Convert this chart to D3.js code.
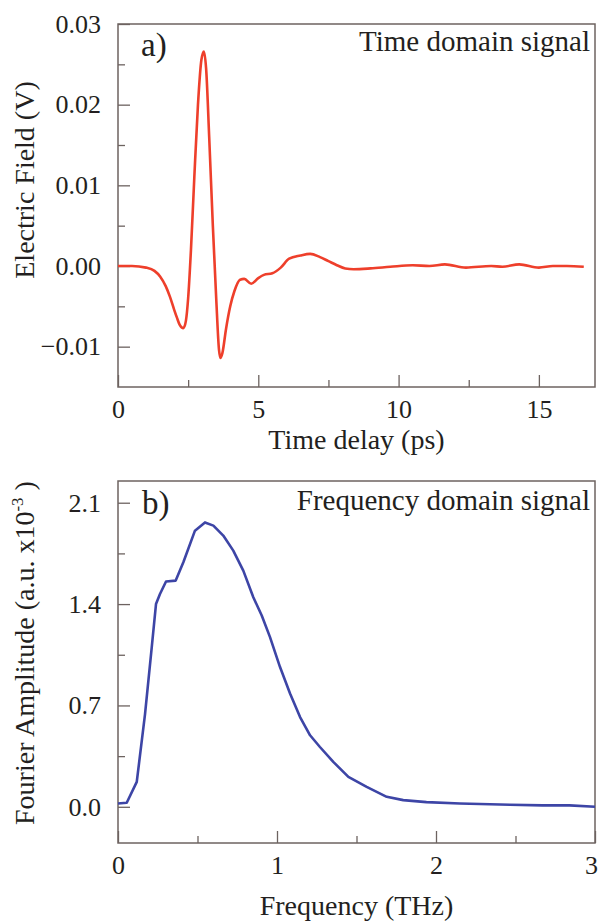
<!DOCTYPE html>
<html>
<head>
<meta charset="utf-8">
<script src="https://cdn.jsdelivr.net/npm/d3@7"></script>
<style>
  body { margin: 0; background: #fff; }
  svg text { font-family: "Liberation Serif", "Noto Serif", FreeSerif, Times, "Times New Roman", "DejaVu Serif", serif !important; fill: #231f20; }
</style>
</head>
<body>
<svg id="chart" width="600" height="922"></svg>
<script>
// time domain signal (ps, V)
let timeDelay = [0, 0.5, 1.0, 1.3, 1.5, 1.7, 1.85, 2.0, 2.1, 2.2, 2.33, 2.42, 2.5, 2.6, 2.72, 2.85, 2.97, 3.06, 3.14, 3.25, 3.38, 3.5, 3.6, 3.65, 3.72, 3.85, 4.0, 4.15, 4.35, 4.5, 4.75, 5.0, 5.2, 5.5, 5.8, 6.1, 6.5, 6.85, 7.2, 7.5, 7.8, 8.1, 8.4, 9.0, 9.7, 10.5, 11.1, 11.65, 12.4, 13.3, 13.7, 14.3, 15.0, 15.5, 16.0, 16.6];
let electricField = [0, 0, -0.0002, -0.0006, -0.0013, -0.0025, -0.0038, -0.0054, -0.0064, -0.0073, -0.0077, -0.0068, -0.004, 0.002, 0.011, 0.020, 0.0255, 0.0266, 0.0245, 0.016, 0.005, -0.004, -0.0104, -0.0114, -0.0108, -0.0078, -0.005, -0.0031, -0.0017, -0.0016, -0.0022, -0.0015, -0.0011, -0.0009, -0.0002, 0.0009, 0.0013, 0.0015, 0.0011, 0.0006, 0.0001, -0.0003, -0.0004, -0.0003, -0.0001, 0.0001, 0, 0.0002, -0.0002, 0, -0.0001, 0.0002, -0.0002, 0, 0, -0.0001];

// frequency domain signal (THz, a.u. x10^-3)
let frequency = [0, 0.055, 0.118, 0.17, 0.212, 0.239, 0.264, 0.302, 0.363, 0.411, 0.484, 0.547, 0.6, 0.662, 0.725, 0.788, 0.851, 0.904, 0.956, 1.019, 1.082, 1.145, 1.208, 1.27, 1.354, 1.449, 1.564, 1.69, 1.794, 1.94, 2.15, 2.465, 2.67, 2.84, 3.0];
let fourierAmp = [0.023, 0.028, 0.172, 0.64, 1.10, 1.40, 1.47, 1.556, 1.562, 1.689, 1.907, 1.964, 1.942, 1.873, 1.769, 1.631, 1.447, 1.321, 1.172, 0.965, 0.782, 0.62, 0.494, 0.413, 0.31, 0.207, 0.138, 0.069, 0.046, 0.032, 0.023, 0.014, 0.01, 0.01, 0.0];

// tick values
let timeTicks = [0, 5, 10, 15];
let timeMinor = [2.5, 7.5, 12.5];
let fieldTicks = [-0.01, 0, 0.01, 0.02, 0.03];
let fieldMinor = [-0.005, 0.005, 0.015, 0.025];
let freqTicks = [0, 1, 2, 3];
let freqMinor = [0.5, 1.5, 2.5];
let ampTicks = [0, 0.7, 1.4, 2.1];
let ampMinor = [0.35, 1.05, 1.75];

let svg = d3.select("#chart");
let frameColor = "#6d6360";
let left = 118, right = 595;

function drawPanel(cfg) {
    let x = d3.scaleLinear().domain(cfg.xDomain).range([left, right]);
    let y = d3.scaleLinear().domain(cfg.yDomain).range([cfg.bottom, cfg.top]);
    let g = svg.append("g");

    // x axis ticks (inward)
    let xa = g.append("g").attr("transform", `translate(0,${cfg.bottom})`)
              .call(d3.axisBottom(x).tickValues(cfg.xTicks).tickSize(-12).tickPadding(13)
                      .tickFormat(cfg.xFormat));
    g.append("g").attr("transform", `translate(0,${cfg.bottom})`)
     .call(d3.axisBottom(x).tickValues(cfg.xMinor).tickSize(-7).tickFormat(""));

    // y axis ticks (inward)
    g.append("g").attr("transform", `translate(${left},0)`)
     .call(d3.axisLeft(y).tickValues(cfg.yTicks).tickSize(-12).tickPadding(17)
             .tickFormat(cfg.yFormat));
    g.append("g").attr("transform", `translate(${left},0)`)
     .call(d3.axisLeft(y).tickValues(cfg.yMinor).tickSize(-7).tickFormat(""));

    g.selectAll(".domain").remove();
    g.selectAll("g").attr("font-family", null);
    g.selectAll(".tick line").attr("stroke", frameColor).attr("stroke-width", 1.3);
    g.selectAll(".tick text").style("font-size", "26px").attr("fill", "#231f20");

    // keep a label sitting on the right edge inside the page
    xa.selectAll(".tick text").filter(d => x(d) > right - 5).attr("dx", -4);

    g.append("rect")
     .attr("x", left).attr("y", cfg.top)
     .attr("width", right - left).attr("height", cfg.bottom - cfg.top)
     .attr("fill", "none").attr("stroke", frameColor).attr("stroke-width", 1.5);

    let line = d3.line()
                 .x(d => x(d[0]))
                 .y(d => y(d[1]))
                 .curve(cfg.curve);
    g.append("path")
     .datum(d3.zip(cfg.xs, cfg.ys))
     .attr("d", line)
     .attr("fill", "none")
     .attr("stroke", cfg.color)
     .attr("stroke-width", 2.6)
     .attr("stroke-linejoin", "round");

    // panel letter
    g.append("text").attr("x", cfg.letterX).attr("y", cfg.letterY)
     .style("font-size", "33px").text(cfg.letter);

    // panel title
    g.append("text").attr("x", 590).attr("y", cfg.titleY)
     .attr("text-anchor", "end").style("font-size", "29px").text(cfg.title);

    // x label
    g.append("text").attr("x", (left + right) / 2).attr("y", cfg.xLabelY)
     .attr("text-anchor", "middle").style("font-size", "28px").text(cfg.xLabel);

    return g;
}

drawPanel({
    xDomain: [0, 17], yDomain: [-0.015, 0.03], top: 24, bottom: 387,
    xTicks: timeTicks, xMinor: timeMinor, yTicks: fieldTicks, yMinor: fieldMinor,
    xFormat: d3.format("d"), yFormat: d3.format(".2f"),
    xs: timeDelay, ys: electricField, color: "#ee3f2b", curve: d3.curveMonotoneX,
    letter: "a)", letterX: 141, letterY: 56,
    title: "Time domain signal", titleY: 51,
    xLabel: "Time delay (ps)", xLabelY: 449
});

drawPanel({
    xDomain: [0, 3], yDomain: [-0.25, 2.25], top: 481, bottom: 843,
    xTicks: freqTicks, xMinor: freqMinor, yTicks: ampTicks, yMinor: ampMinor,
    xFormat: d3.format("d"), yFormat: d3.format(".1f"),
    xs: frequency, ys: fourierAmp, color: "#3d45a6", curve: d3.curveLinear,
    letter: "b)", letterX: 142, letterY: 514,
    title: "Frequency domain signal", titleY: 510,
    xLabel: "Frequency (THz)", xLabelY: 915
});

// y labels
svg.append("text")
   .attr("transform", "translate(34,180) rotate(-90)")
   .attr("text-anchor", "middle").style("font-size", "28px")
   .text("Electric Field (V)");

let yl2 = svg.append("text")
   .attr("transform", "translate(34,653) rotate(-90)")
   .attr("text-anchor", "middle").style("font-size", "28px");
yl2.append("tspan").text("Fourier Amplitude (a.u. x10");
yl2.append("tspan").attr("dy", -11).style("font-size", "17px").text("-3");
yl2.append("tspan").attr("dy", 11).text(" )");
</script>
</body>
</html>
